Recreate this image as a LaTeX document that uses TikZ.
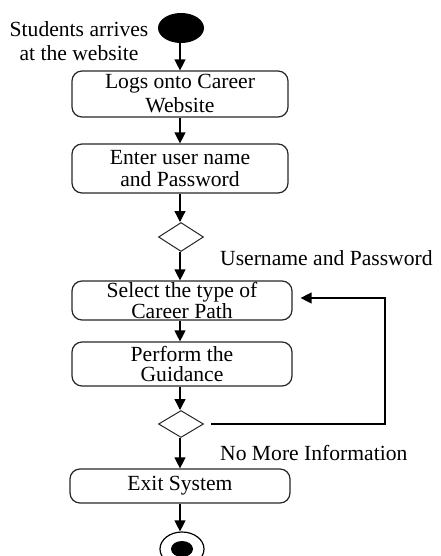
\documentclass[tikz,border=0pt]{standalone}
\usepackage{fontspec}
\setmainfont{Liberation Serif}
\usetikzlibrary{shapes.geometric,arrows.meta}
\begin{document}
\begin{tikzpicture}[x=1pt,y=-1pt,
  every node/.style={font=\fontsize{21.6}{24}\selectfont},
  act/.style={draw=black!85, line width=1.2pt, rounded corners=10pt, rectangle, align=center, inner sep=0pt},
  tight/.style={font=\fontsize{21.6}{19.5}\selectfont},
  dec/.style={draw=black!85, line width=1pt, diamond, inner sep=0pt, minimum width=45pt, minimum height=29pt, aspect=1.55},
  flow/.style={draw=black, line width=1.3pt, -{Triangle[width=11pt,length=11pt]}},
  lbl/.style={align=center, inner sep=0pt}]
\useasboundingbox (0,0) rectangle (440,556);
\node[ellipse, fill=black, inner sep=0pt, minimum width=46pt, minimum height=30pt] (start) at (181,28) {};
\node[lbl] (startlbl) at (79,41) {Students arrives\\at the website};
\node[act, minimum width=216pt, minimum height=46pt] (b1) at (180,94) {Logs onto Career\\Website};
\node[act, minimum width=216pt, minimum height=49pt, font=\fontsize{21.6}{22}\selectfont] (b2) at (180,168.5) {Enter user name\\and Password};
\node[dec] (d1) at (181,237) {};
\node[act, tight, minimum width=220pt, minimum height=39pt] (b3) at (182,300.5) {Select the type of\\Career Path};
\node[act, tight, minimum width=220pt, minimum height=44pt] (b4) at (182,364) {Perform the\\Guidance};
\node[dec, minimum height=27pt] (d2) at (181,424) {};
\node[act, minimum width=220pt, minimum height=34pt] (b5) at (180,486) {Exit System};
\node[draw=black, line width=1.2pt, minimum width=44pt, minimum height=34pt, ellipse, inner sep=0pt] (endo) at (182,549) {};
\node[ellipse, fill=black, inner sep=0pt, minimum width=22pt, minimum height=16pt] (endi) at (182,549) {};
\node[lbl, anchor=west] (l1) at (220,258) {Username and Password};
\node[lbl, anchor=west] (l2) at (220,453) {No More Information};
\coordinate (c1) at (385,424);
\coordinate (c2) at (385,298);
\draw[flow] (start.south -| 180,0) -- (b1.north -| 180,0);
\draw[flow] (b1.south -| 180,0) -- (b2.north -| 180,0);
\draw[flow] (b2.south -| 180,0) -- (d1.north -| 180,0);
\draw[flow] (d1.south -| 180,0) -- (b3.north -| 180,0);
\draw[flow] (b3.south -| 180,0) -- (b4.north -| 180,0);
\draw[flow] (b4.south -| 180,0) -- (d2.north -| 180,0);
\draw[flow] (d2.south -| 180,0) -- (b5.north -| 180,0);
\draw[flow] (b5.south -| 180,0) -- (endo.north -| 180,0);
\draw[flow, shorten <=7pt, shorten >=8pt] (d2.east) -- (c1) -- (c2) -- (b3.east |- c2);
\end{tikzpicture}
\end{document}
